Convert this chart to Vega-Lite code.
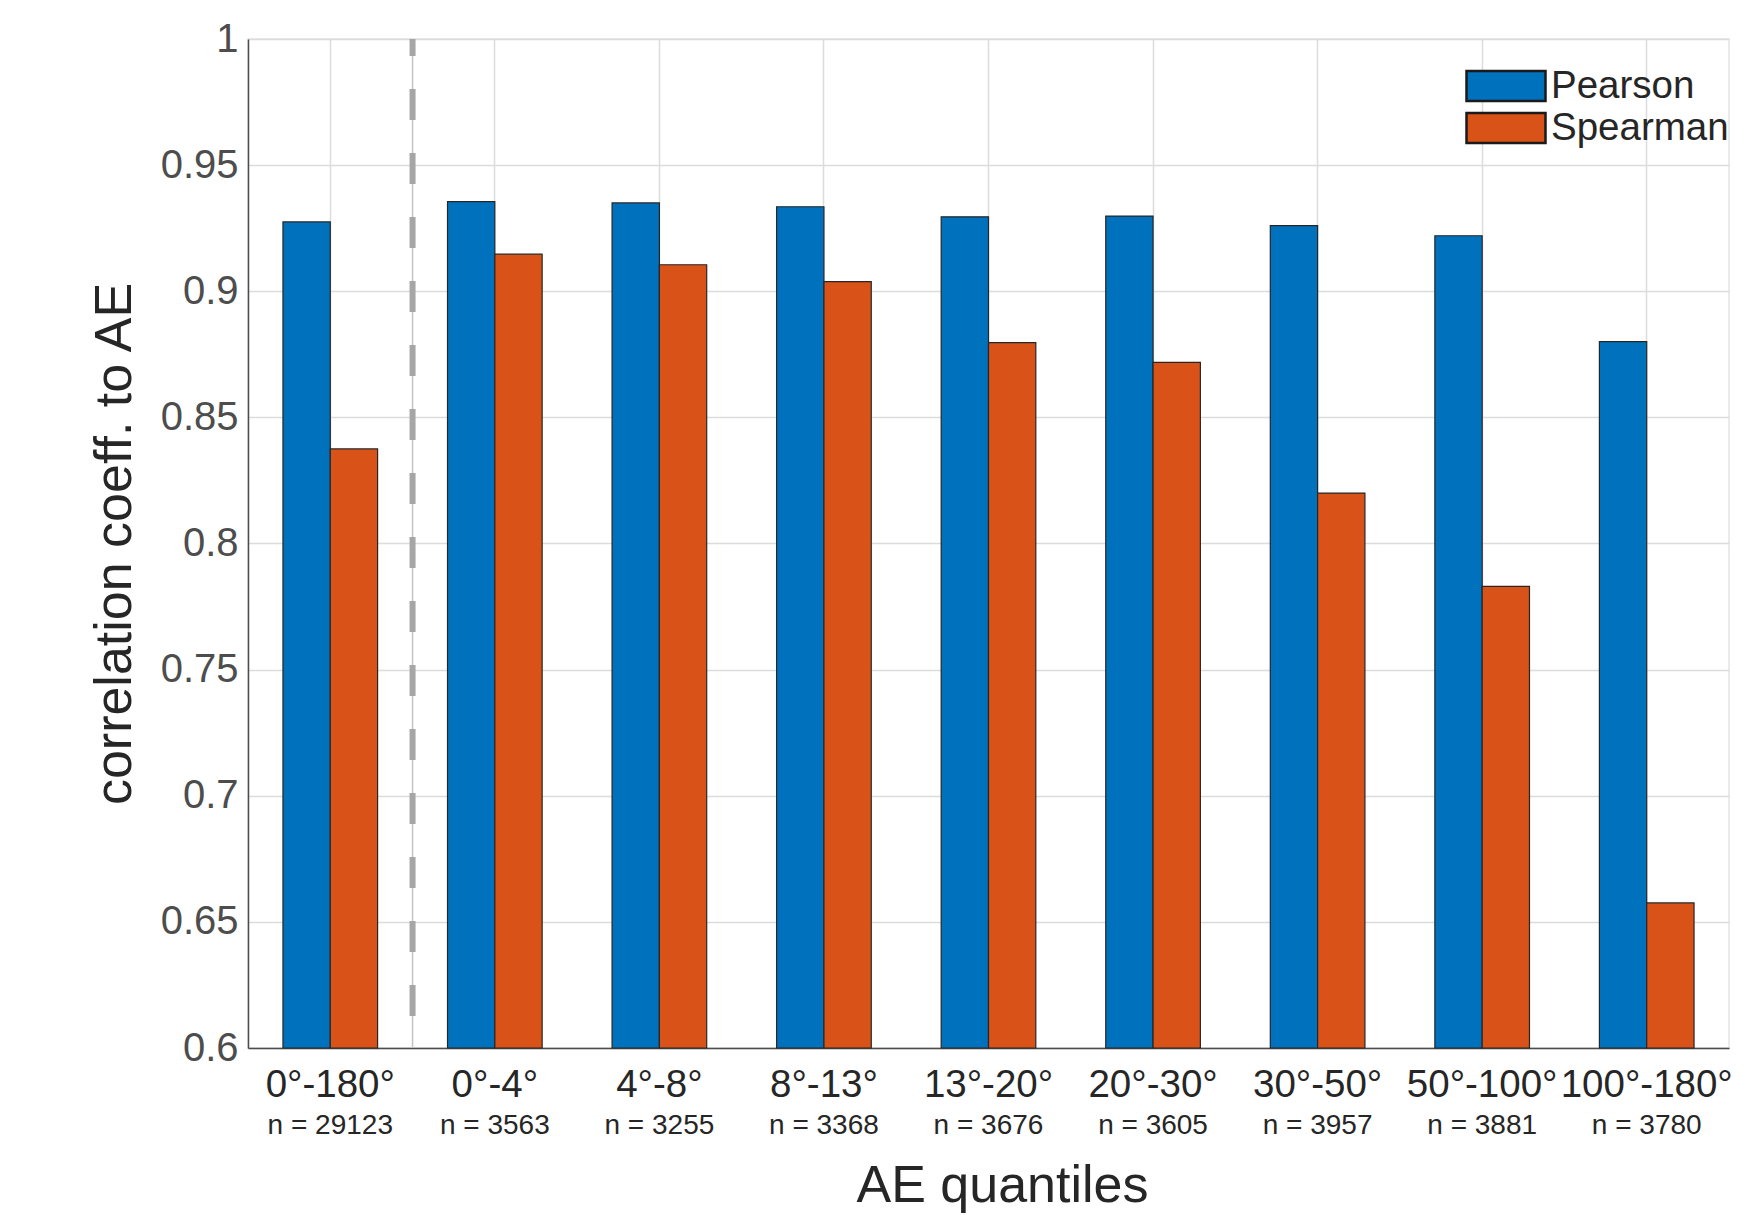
{
  "$schema": "https://vega.github.io/schema/vega-lite/v6.json",
  "width": 1481,
  "height": 1009,
  "autosize": {"type": "none"},
  "padding": {"left": 248, "top": 39, "right": 34, "bottom": 167},
  "background": "white",
  "config": {
    "font": "Liberation Sans",
    "view": {"stroke": "#e3e3e3", "strokeWidth": 1.5},
    "axis": {
      "gridColor": "#dcdcdc",
      "gridWidth": 1.5,
      "domainColor": "#4d4d4d",
      "domainWidth": 1.5,
      "ticks": false,
      "tickSize": 0,
      "titleFont": "Liberation Sans",
      "labelFont": "Liberation Sans",
      "titleFontWeight": "normal",
      "titleColor": "#262626"
    }
  },
  "data": {
    "values": [
      {"range": "0°-180°", "series": "Pearson", "value": 0.9275, "n": "n = 29123"},
      {"range": "0°-180°", "series": "Spearman", "value": 0.8375, "n": "n = 29123"},
      {"range": "0°-4°", "series": "Pearson", "value": 0.9355, "n": "n = 3563"},
      {"range": "0°-4°", "series": "Spearman", "value": 0.9147, "n": "n = 3563"},
      {"range": "4°-8°", "series": "Pearson", "value": 0.935, "n": "n = 3255"},
      {"range": "4°-8°", "series": "Spearman", "value": 0.9105, "n": "n = 3255"},
      {"range": "8°-13°", "series": "Pearson", "value": 0.9335, "n": "n = 3368"},
      {"range": "8°-13°", "series": "Spearman", "value": 0.9038, "n": "n = 3368"},
      {"range": "13°-20°", "series": "Pearson", "value": 0.9295, "n": "n = 3676"},
      {"range": "13°-20°", "series": "Spearman", "value": 0.8796, "n": "n = 3676"},
      {"range": "20°-30°", "series": "Pearson", "value": 0.9298, "n": "n = 3605"},
      {"range": "20°-30°", "series": "Spearman", "value": 0.8718, "n": "n = 3605"},
      {"range": "30°-50°", "series": "Pearson", "value": 0.926, "n": "n = 3957"},
      {"range": "30°-50°", "series": "Spearman", "value": 0.82, "n": "n = 3957"},
      {"range": "50°-100°", "series": "Pearson", "value": 0.922, "n": "n = 3881"},
      {"range": "50°-100°", "series": "Spearman", "value": 0.783, "n": "n = 3881"},
      {"range": "100°-180°", "series": "Pearson", "value": 0.88, "n": "n = 3780"},
      {"range": "100°-180°", "series": "Spearman", "value": 0.6575, "n": "n = 3780"}
    ]
  },
  "layer": [
    {
      "mark": {"type": "bar", "stroke": "#262626", "strokeWidth": 1.2},
      "encoding": {
        "x": {
          "field": "range",
          "type": "nominal",
          "scale": {
            "type": "band",
            "domain": ["0°-180°", "0°-4°", "4°-8°", "8°-13°", "13°-20°", "20°-30°", "30°-50°", "50°-100°", "100°-180°"],
            "paddingInner": 0,
            "paddingOuter": 0
          },
          "axis": {
            "title": "AE quantiles",
            "titleFontSize": 52,
            "titlePadding": 57,
            "titleX": 754,
            "labelFontSize": 38.5,
            "labelPadding": 18,
            "labelColor": "#262626",
            "labelAngle": 0,
            "grid": true
          }
        },
        "xOffset": {
          "field": "series",
          "type": "nominal",
          "scale": {"domain": ["Pearson", "Spearman"], "paddingInner": 0, "paddingOuter": 0.739}
        },
        "y": {
          "field": "value",
          "type": "quantitative",
          "scale": {"domain": [0.6, 1], "nice": false, "zero": false},
          "axis": {
            "title": "correlation coeff. to AE",
            "titleFontSize": 52,
            "titlePadding": 19,
            "labelFontSize": 40,
            "labelPadding": 10,
            "labelColor": "#4d4d4d",
            "values": [0.6, 0.65, 0.7, 0.75, 0.8, 0.85, 0.9, 0.95, 1],
            "format": ".2~f",
            "grid": true
          }
        },
        "y2": {"datum": 0.6},
        "color": {
          "field": "series",
          "type": "nominal",
          "scale": {"domain": ["Pearson", "Spearman"], "range": ["#0072BD", "#D95319"]},
          "legend": {
            "orient": "none",
            "legendX": 1237,
            "legendY": 26,
            "title": null,
            "padding": 0,
            "symbolType": "M-2,-0.76H2V0.76H-2Z",
            "symbolSize": 1560,
            "symbolStrokeColor": "#1a1a1a",
            "symbolStrokeWidth": 2.5,
            "symbolFillOpacity": 1,
            "labelFontSize": 38.5,
            "labelColor": "#262626",
            "labelOffset": 24,
            "rowPadding": -2.5,
            "labelLimit": 400
          }
        }
      }
    },
    {
      "data": {"values": [{"boundary": "0°-4°"}]},
      "mark": {"type": "rule", "stroke": "#c4c4c4", "strokeWidth": 1.5},
      "encoding": {
        "x": {"field": "boundary", "type": "nominal", "bandPosition": 0}
      }
    },
    {
      "data": {"values": [{"boundary": "0°-4°"}]},
      "mark": {"type": "rule", "stroke": "#a6a6a6", "strokeWidth": 6, "strokeDash": [31, 33], "strokeDashOffset": 14},
      "encoding": {
        "x": {"field": "boundary", "type": "nominal", "bandPosition": 0}
      }
    },
    {
      "transform": [{"filter": "datum.series === 'Pearson'"}],
      "mark": {"type": "text", "fontSize": 28, "color": "#262626", "align": "center", "baseline": "middle", "dy": 78},
      "encoding": {
        "x": {"field": "range", "type": "nominal"},
        "y": {"datum": 0.6},
        "text": {"field": "n"}
      }
    }
  ]
}
